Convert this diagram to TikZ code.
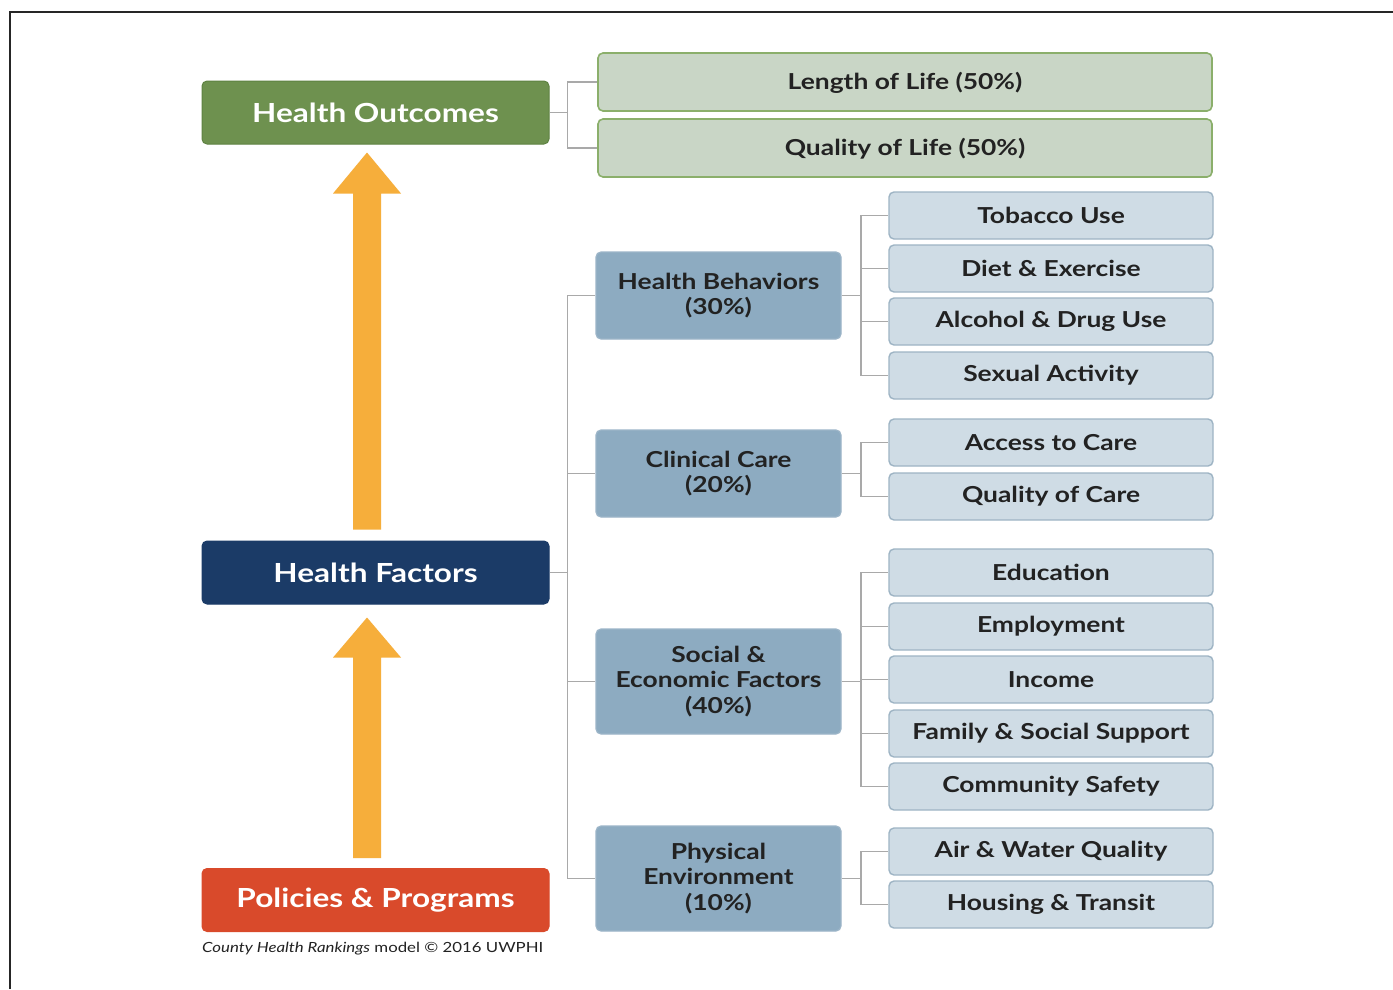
\documentclass[tikz,border=0pt]{standalone}
\usepackage{fontspec}
\setmainfont{Lato}[FakeStretch=1.2]
\usetikzlibrary{calc}
\definecolor{hogreen}{HTML}{6E914F}
\definecolor{hogreenborder}{HTML}{5E8242}
\definecolor{lifefill}{HTML}{C9D6C6}
\definecolor{lifeborder}{HTML}{8BAF6B}
\definecolor{navy}{HTML}{1B3B67}
\definecolor{redor}{HTML}{D94A2B}
\definecolor{arrowc}{HTML}{F6AE3B}
\definecolor{midfill}{HTML}{8DABC1}
\definecolor{midborder}{HTML}{9CB5C8}
\definecolor{leaffill}{HTML}{CFDCE5}
\definecolor{leafborder}{HTML}{9EB4C4}
\definecolor{conncol}{HTML}{A9A9A9}
\definecolor{textdark}{HTML}{222222}
\begin{document}
\begin{tikzpicture}[x=1pt,y=-1pt,
  basebox/.style={rounded corners=5pt, inner sep=0pt, align=center},
  bigbox/.style={basebox, minimum width=347pt, minimum height=63pt, text=white,
    font=\fontsize{26.3}{30}\selectfont\bfseries},
  hobox/.style={bigbox, fill=hogreen, draw=hogreenborder, line width=1pt},
  hfbox/.style={bigbox, fill=navy, draw=navy, line width=1pt},
  ppbox/.style={bigbox, fill=redor, draw=redor, line width=1pt},
  lifebox/.style={basebox, fill=lifefill, draw=lifeborder, line width=1.6pt,
    minimum width=614pt, minimum height=58pt, text=textdark,
    font=\fontsize{22}{26}\selectfont\bfseries},
  midbox/.style={basebox, fill=midfill, draw=midborder, line width=1.2pt,
    minimum width=245pt, text=textdark,
    font=\fontsize{22}{25.5}\selectfont\bfseries},
  leafbox/.style={basebox, fill=leaffill, draw=leafborder, line width=1.4pt,
    minimum width=324pt, minimum height=47pt, text=textdark,
    font=\fontsize{22}{26}\selectfont\bfseries},
  conn/.style={draw=conncol, line width=1.8pt},
  bigarrow/.style={fill=arrowc}
]
\useasboundingbox (0,0) rectangle (1393,989);
\fill[white] (0,0) rectangle (1393,989);
\draw[line width=2.8pt, black!85] (10,989) -- (10,12) -- (1393,12);

% main column
\node[hobox] (ho) at (375.5,112.5) {Health Outcomes};
\node[hfbox] (hf) at (375.5,572.5) {Health Factors};
\node[ppbox] (pp) at (375.5,900) {Policies \& Programs};
\node[anchor=north west, inner sep=0pt, text=textdark, font=\fontsize{14}{16}\selectfont] (cap) at (202,942)
  {\textit{County Health Rankings} model © 2016 UWPHI};

% outcomes
\node[lifebox, text depth=2pt] (lol) at (905,82) {Length of Life (50\%)};
\node[lifebox, text depth=2pt] (qol) at (905,148) {Quality of Life (50\%)};

% mid boxes
\node[midbox, minimum height=87pt] (hb) at (718.5,295.5) {Health Behaviors\\(30\%)};
\node[midbox, minimum height=87pt] (cc) at (718.5,473.5) {Clinical Care\\(20\%)};
\node[midbox, minimum height=105pt] (sef) at (718.5,681.5) {Social \&\\Economic Factors\\(40\%)};
\node[midbox, minimum height=105pt] (pe) at (718.5,878.5) {Physical\\Environment\\(10\%)};

% leaves
\node[leafbox] (tob) at (1051,215.5) {Tobacco Use};
\node[leafbox] (die) at (1051,268.5) {Diet \& Exercise};
\node[leafbox] (alc) at (1051,321.5) {Alcohol \& Drug Use};
\node[leafbox] (sex) at (1051,375.5) {Sexual Activity};
\node[leafbox] (acc) at (1051,442.5) {Access to Care};
\node[leafbox] (qoc) at (1051,496.5) {Quality of Care};
\node[leafbox] (edu) at (1051,572.5) {Education};
\node[leafbox] (emp) at (1051,626.5) {Employment};
\node[leafbox] (inc) at (1051,679.5) {Income};
\node[leafbox] (fam) at (1051,733.5) {Family \& Social Support};
\node[leafbox] (com) at (1051,786.5) {Community Safety};
\node[leafbox] (air) at (1051,851.5) {Air \& Water Quality};
\node[leafbox] (hou) at (1051,904.5) {Housing \& Transit};

% connectors: outcomes
\coordinate (hoj) at ($(ho.east)+(18,0)$);
\draw[conn] (ho.east) -- (hoj);
\draw[conn] (hoj) |- (lol.west);
\draw[conn] (hoj) |- (qol.west);

% connectors: factors spine
\coordinate (hfj) at ($(hf.east)+(18,0)$);
\draw[conn] (hf.east) -- (hfj);
\foreach \m in {hb,cc,sef,pe} { \draw[conn] (hfj) |- (\m.west); }

% connectors: leaves
\coordinate (hbj) at ($(hb.east)+(19,0)$);
\draw[conn] (hb.east) -- (hbj);
\foreach \l in {tob,die,alc,sex} { \draw[conn] (hbj) |- (\l.west); }
\coordinate (ccj) at ($(cc.east)+(19,0)$);
\draw[conn] (cc.east) -- (ccj);
\foreach \l in {acc,qoc} { \draw[conn] (ccj) |- (\l.west); }
\coordinate (sefj) at ($(sef.east)+(19,0)$);
\draw[conn] (sef.east) -- (sefj);
\foreach \l in {edu,emp,inc,fam,com} { \draw[conn] (sefj) |- (\l.west); }
\coordinate (pej) at ($(pe.east)+(19,0)$);
\draw[conn] (pe.east) -- (pej);
\foreach \l in {air,hou} { \draw[conn] (pej) |- (\l.west); }

% big arrows
\coordinate (a1b) at ($(hf.north)+(-8.5,-11)$);
\coordinate (a1t) at ($(ho.south)+(-8.5,8)$);
\coordinate (a2b) at ($(pp.north)+(-8.5,-10)$);
\coordinate (a2t) at ($(hf.south)+(-8.5,13)$);
\fill[bigarrow] let \p1=(a1b), \p2=(a1t) in
  (\x1-14pt,\y1) -- (\x1+14pt,\y1) -- (\x1+14pt,\y2-41pt) -- (\x1+34pt,\y2-41pt)
  -- (\x2,\y2) -- (\x1-34pt,\y2-41pt) -- (\x1-14pt,\y2-41pt) -- cycle;
\fill[bigarrow] let \p1=(a2b), \p2=(a2t) in
  (\x1-14pt,\y1) -- (\x1+14pt,\y1) -- (\x1+14pt,\y2-40pt) -- (\x1+34pt,\y2-40pt)
  -- (\x2,\y2) -- (\x1-34pt,\y2-40pt) -- (\x1-14pt,\y2-40pt) -- cycle;
\end{tikzpicture}
\end{document}
